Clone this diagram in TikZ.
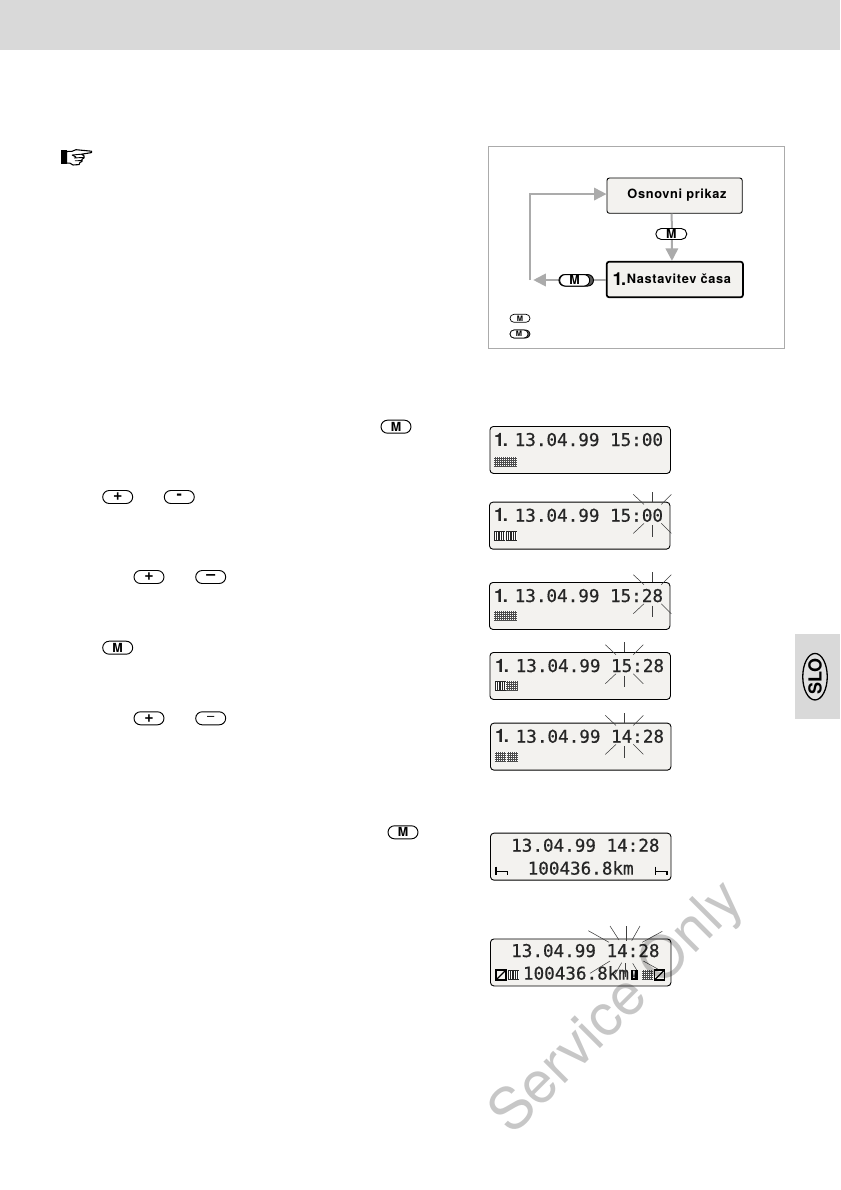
\documentclass[tikz,border=0pt]{standalone}
\usepackage{fontspec}
\setmainfont{TeX Gyre Heros}
\newfontfamily\lcdfont[FakeBold=0.6]{DejaVu Sans Mono}
\usetikzlibrary{shapes.geometric,shapes.misc,arrows.meta}
\definecolor{panelgray}{HTML}{D9D9D9}
\definecolor{framegray}{HTML}{ABABAB}
\definecolor{lcdfill}{HTML}{F3F2EF}
\definecolor{lcdink}{HTML}{262626}
\tikzset{
  lcdbox/.style={draw=black,line width=0.9,fill=lcdfill,rounded corners=3.5,anchor=north west,inner sep=0,minimum width=180.5,minimum height=47},
  lcdtext/.style={anchor=base west,inner sep=0,text=lcdink,font=\lcdfont\fontsize{17.6}{18}\selectfont},
  lcdone/.style={anchor=base west,inner sep=0,text=lcdink,font=\bfseries\fontsize{18.5}{19}\selectfont},
  flash/.style={line width=0.55,draw=black!75},
  flowbox/.style={draw=black,fill=lcdfill,rounded corners=2.5,inner sep=0},
  btn/.style={rounded rectangle,draw=black,line width=0.95,fill=white,inner sep=0,minimum width=30,minimum height=13,font=\bfseries\fontsize{12.5}{12}\selectfont},
  plusbtn/.style={btn,font=\bfseries\fontsize{16}{12}\selectfont},
  btnsmall/.style={btn,minimum width=20,minimum height=8,line width=0.7,font=\bfseries\fontsize{7.5}{8}\selectfont},
  flowline/.style={draw=framegray,line width=2},
  flowarrow/.style={flowline,-{Triangle[length=12.5,width=12.5]}},
}
\newcommand{\dotcell}[4]{% x y w h
  \fill[black!70] (#1,#2) rectangle +(#3,#4);
  \foreach \k in {1,3,...,#4}{\draw[white,line width=0.95,dash pattern=on 1.05pt off 0.95pt] (#1,#2+\k-0.4) -- +(#3,0);}
}
\newcommand{\stripecell}[4]{%
  \fill[black!85] (#1,#2) rectangle +(#3,#4);
  \foreach \k in {1.5,3.7,...,#3}{\draw[white,line width=0.7] (#1+\k,#2+1) -- +(0,#4-2.5);}
}
\newcommand{\crossbox}[2]{%
  \draw[black,line width=1.2] (#1,#2) rectangle +(10,10);
  \draw[black,line width=1.1] (#1,#2+10) -- +(10,-10);
}
\newcommand{\restmark}[1]{%
  \draw[black,line width=1.5] (#1,866.7) -- (#1,875.2) (#1,871.4) -- +(11.5,0) -- +(11.5,3.8);
}
\newcommand{\fourflash}[2]{% centre x, display top
  \draw[flash] (#1,#2-9.7) -- +(0,9.7);
  \draw[flash] (#1,#2+23.5) -- +(0,11.7);
  \draw[flash] (#1-19,#2-7.3) -- +(10.7,10);
  \draw[flash] (#1+19,#2-7.3) -- +(-10,10);
  \draw[flash] (#1-19,#2+31.7) -- +(10.7,-10);
  \draw[flash] (#1+19,#2+31.7) -- +(-10,-10);
}
\begin{document}
\begin{tikzpicture}[x=1pt,y=-1pt]
\useasboundingbox (0,0) rectangle (840,1190);
\fill[white] (0,0) rectangle (840,1190);
% header band and side tab
\fill[panelgray] (0,0) rectangle (840,50);
\fill[panelgray] (795,634) rectangle (840,719);
\node[ellipse,draw=black,line width=1.3,fill=panelgray!80!white,inner sep=0,minimum width=24.5,minimum height=46.5] (tabmark) at (815,676.7) {};
\node[rotate=90,inner sep=0,font=\bfseries\fontsize{18}{18}\selectfont] (tabtext) at (815,676.7) {SLO};
% pointing hand
\fill[black] (61,150.5) rectangle (66.5,163.8);
\draw[black,line width=1.1,line join=round,fill=white]
  (66.5,151.5) -- (72,151.3) -- (76,149.7) -- (91.5,151.2) -- (91.5,152.6) -- (81.5,154.2)
  -- (84,155.8) -- (84,158) -- (82,159.2) -- (82,161.4) -- (80,162.4) -- (79,164.6)
  -- (73,165) -- (70,163.2) -- (66.5,163.2) -- cycle;
\draw[black,line width=0.9] (72,155) -- (81.5,154.2) (74,158) -- (84,157.4) (75,160.8) -- (82,160.6) (76,157) -- (72,155);
% flow panel
\draw[framegray,line width=1.4] (488.3,146.7) rectangle (784.3,348.3);
\node[flowbox,line width=0.9,minimum width=135.3,minimum height=35.3] (osn) at (674.6,195.65) {};
\node[anchor=base,inner sep=0,font=\bfseries\fontsize{12.8}{14}\addfontfeature{LetterSpace=5}] (osntxt) at (677,199) {Osnovni prikaz};
\node[flowbox,line width=1.7,minimum width=136.3,minimum height=35.6] (nas) at (674.85,279.5) {};
\node[anchor=base west,inner sep=0,font=\bfseries\fontsize{12.8}{14}\addfontfeature{LetterSpace=5}] (nastxt) at (626.7,283.3) {Nastavitev časa};
\node[anchor=base west,inner sep=0,font=\bfseries\fontsize{18}{18}\selectfont] (nasone) at (612.5,285.5) {1\kern-1.5pt.};
\coordinate (corner) at (530,280);
\coordinate (tip) at (533.3,280);
\draw[flowarrow] ([xshift=-2.9pt]osn.south) -- ([xshift=-2.9pt]nas.north);
\draw[flowarrow] ([yshift=-0.5pt]nas.west) -- (tip);
\draw[flowarrow] (corner) |- ([yshift=1.6pt]osn.west);
\node[btn,minimum width=31,minimum height=11] (m1) at (671.3,234) {M};
\node[btn,fill=black!65,minimum width=34.5,minimum height=11.5] (m2back) at (576.2,280.3) {};
\node[btn,minimum width=30,minimum height=11.5,anchor=west] (m2) at (559.2,280.3) {M};
\node[btnsmall] (leg1) at (520,318.3) {M};
\node[btnsmall,fill=black!65] (leg2back) at (520,334) {};
\node[btnsmall,minimum width=18,anchor=west] (leg2) at (509.7,334) {M};
% text buttons
\node[btn] (b1) at (396,426.7) {M};
\node[plusbtn] (b2) at (117.7,497) {+};
\node[plusbtn] (b3) at (179.3,497) {-};
\node[plusbtn] (b4) at (149,577) {+};
\node[plusbtn] (b5) at (210.7,577) {–};
\node[btn] (b6) at (117.7,647.7) {M};
\node[plusbtn] (b7) at (149,718.3) {+};
\node[btn,font=\fontsize{13}{12}\selectfont] (b8) at (210.7,718.3) {–};
\node[btn] (b9) at (403,832.3) {M};
% displays
\node[lcdbox] (d1) at (489.5,426) {};
\node[lcdone] (d1a) at (494,446) {1\kern-1.5pt.};
\node[lcdtext] (d1b) at (514.5,446) {13.04.99 15:00};
\dotcell{494}{457}{23}{10}
%
\node[lcdbox] (d2) at (489,501.7) {};
\node[lcdone] (d2a) at (494,521.7) {1\kern-1.5pt.};
\node[lcdtext] (d2b) at (514.5,521.7) {13.04.99 15:00};
\stripecell{494}{531}{10.6}{10}
\stripecell{506}{531}{10.6}{10}
\fourflash{652.3}{501.7}
%
\node[lcdbox] (d3) at (489,582) {};
\node[lcdone] (d3a) at (494,602) {1\kern-1.5pt.};
\node[lcdtext] (d3b) at (514.5,602) {13.04.99 15:28};
\dotcell{494}{611}{23}{10}
\fourflash{652.3}{582}
%
\node[lcdbox] (d4) at (489.5,652) {};
\node[lcdone] (d4a) at (495,672) {1\kern-1.5pt.};
\node[lcdtext] (d4b) at (515.5,672) {13.04.99 15:28};
\stripecell{495}{681}{10.6}{10}
\dotcell{506.4}{681}{11.2}{10}
\fourflash{624.3}{652}
%
\node[lcdbox] (d5) at (490,722.7) {};
\node[lcdone] (d5a) at (495,742.7) {1\kern-1.5pt.};
\node[lcdtext] (d5b) at (515.5,742.7) {13.04.99 14:28};
\dotcell{495}{752}{10.8}{10}
\dotcell{507}{752}{10.8}{10}
\fourflash{624.3}{722.7}
%
\node[lcdbox] (d6) at (490,832.7) {};
\node[lcdtext] (d6b) at (511,851.7) {13.04.99 14:28};
\node[lcdtext] (d6c) at (527.5,874.6) {100436.8km};
\restmark{496.2}
\restmark{655.6}
%
\node[lcdbox] (d7) at (490,938.5) {};
\node[lcdtext] (d7b) at (511,957) {13.04.99 14:28};
\node[lcdtext] (d7c) at (522.8,979.6) {100436.8km};
\crossbox{496}{970}
\stripecell{508}{970}{11}{10}
\fill[black] (630.5,969.5) rectangle (637.8,980);
\node[inner sep=0,text=white,font=\bfseries\fontsize{10}{10}\selectfont] (d7ex) at (634.1,974.7) {!};
\dotcell{642}{970}{11}{10}
\crossbox{654.5}{970}
\foreach \xa/\ya/\xb/\yb in {588.3/930.7/609/942.3,610/926/619/940,626.3/926/626.3/940.7,640/926/631.7/940.7,662.3/931.3/642.3/942.3,610/961/590/973.3,621.7/962.7/615/974.3,625.7/963.3/625.7/976.7,632.7/963.3/636.7/970,643.3/961/657.7/969}
  {\draw[flash] (\xa,\ya) -- (\xb,\yb);}
% watermark
\node[rotate=45,inner sep=0,opacity=0.22,font=\fontsize{58}{58}\selectfont] (mark) at (618,1009) {Service Only};
\end{tikzpicture}
\end{document}
